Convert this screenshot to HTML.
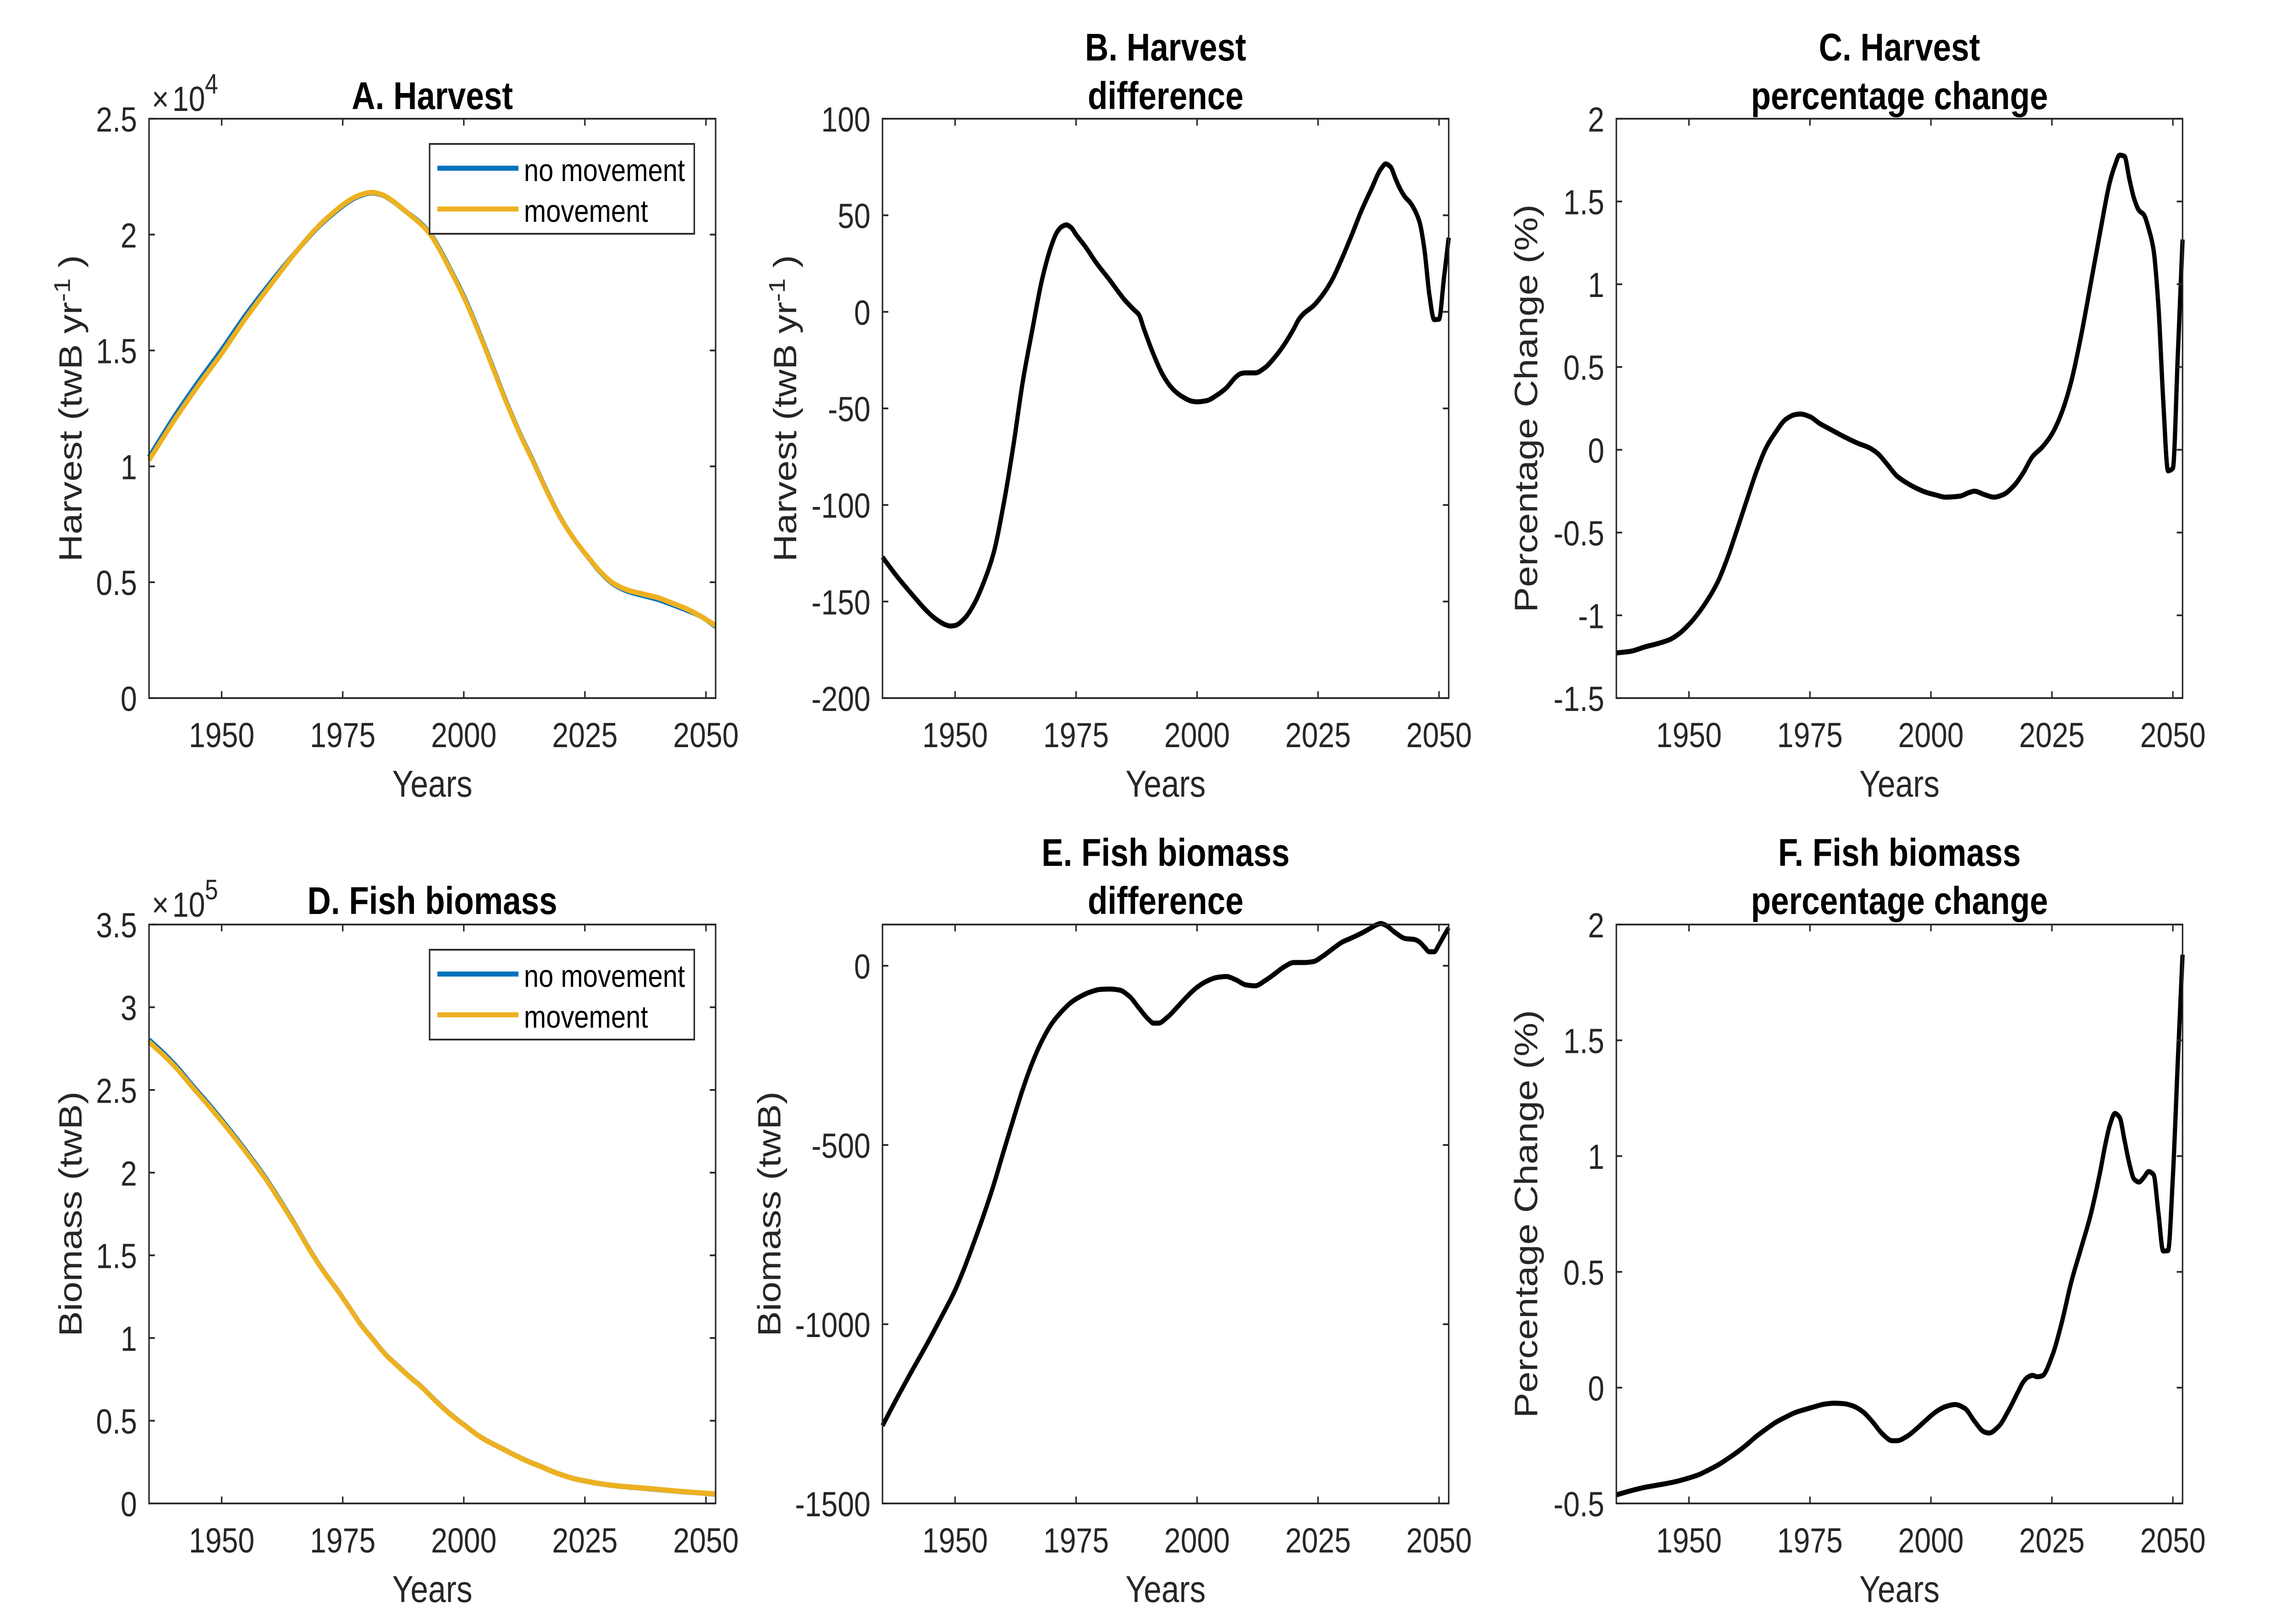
<!DOCTYPE html>
<html lang="en">
<head>
<meta charset="utf-8">
<title>Harvest and fish biomass: movement vs no movement</title>
<style>
html,body{margin:0;padding:0;background:#fff;width:100%;height:100%;overflow:hidden;}
svg{display:block;width:100vw;height:100vh;}
text{font-family:"Liberation Sans",Arial,sans-serif;white-space:pre;}
</style>
</head>
<body>
<svg id="figure" xmlns="http://www.w3.org/2000/svg" viewBox="0 0 5906 3543" preserveAspectRatio="none">
<rect x="0" y="0" width="5906" height="3543" fill="#ffffff"/>
</svg>
<script>
// ---------- Shared axis data ----------
const xTickValues = [1950, 1975, 2000, 2025, 2050];

// ---------- Panel A: harvest (x 10^4 twB/yr) ----------
const harvestYears = [1935,1940,1945,1950,1955,1960,1965,1970,1973,1976,1978,1981,1983,1985,1988,1991,1993,1995,1997,2000,2003,2006,2009,2012,2014,2017,2020,2023,2026,2028,2031,2034,2037,2040,2043,2046,2049,2052];
const harvestNoMovement = [1.039,1.207,1.360,1.503,1.654,1.790,1.917,2.034,2.090,2.139,2.163,2.180,2.172,2.149,2.100,2.051,2.006,1.939,1.859,1.735,1.587,1.428,1.268,1.123,1.037,0.901,0.777,0.680,0.599,0.548,0.491,0.460,0.443,0.4265,0.404,0.380,0.3525,0.309];
const harvestMovement = [1.026,1.192,1.344,1.487,1.640,1.780,1.916,2.037,2.094,2.143,2.166,2.182,2.173,2.150,2.100,2.048,2.003,1.935,1.855,1.730,1.583,1.424,1.265,1.120,1.034,0.899,0.776,0.680,0.600,0.550,0.494,0.465,0.449,0.434,0.410,0.385,0.352,0.313];
const harvestYTicks = [0,0.5,1,1.5,2,2.5];
const harvestYLabels = ['0','0.5','1','1.5','2','2.5'];

// ---------- Panel B: harvest difference ----------
const harvestDiffYears = [1935,1938,1941,1944,1946,1948,1949,1950,1952,1954,1956,1958,1960,1962,1964,1966,1968,1970,1971,1972,1973,1974,1975,1977,1979,1982,1985,1987,1988,1989,1991,1993,1995,1997,1999,2000,2002,2004,2006,2008,2009,2010,2012,2014,2016,2018,2020,2021,2022,2024,2026,2028,2030,2032,2034,2036,2038,2039,2040,2041,2042,2043,2044,2045,2046,2047,2048,2049,2050,2051,2052];
const harvestDiff = [-127,-137,-146,-154.5,-159,-162,-162.7,-162.4,-158.6,-151,-139.5,-124.5,-100,-70,-36,-8.7,17,35,41,44,45,43.6,40,33.5,26,16.3,6.3,1,-1.5,-8.7,-22,-33,-40,-44,-46.3,-46.6,-46,-43.3,-39.5,-33.8,-32,-31.6,-31.6,-29,-23.7,-17,-8.7,-4,-1,3,9,17,28,40,52.6,63.5,74,76.6,75,69,63.5,59.4,56.7,52.6,46.3,32,9,-4,-3.8,17,38.4];
const harvestDiffYTicks = [-200,-150,-100,-50,0,50,100];
const harvestDiffYLabels = ['-200','-150','-100','-50','0','50','100'];

// ---------- Panel C: harvest percentage change ----------
const harvestPctYears = [1935,1938,1941,1944,1946,1948,1950,1952,1954,1956,1958,1960,1962,1964,1966,1968,1970,1972,1973,1975,1977,1979,1982,1985,1987,1989,1991,1993,1995,1997,1999,2001,2003,2006,2008,2009,2011,2013,2015,2017,2019,2021,2023,2025,2027,2029,2031,2033,2035,2037,2038,2039,2040,2041,2042,2043,2044,2045,2046,2047,2048,2049,2050,2051,2052];
const harvestPct = [-1.227,-1.217,-1.19,-1.167,-1.147,-1.11,-1.055,-0.985,-0.9,-0.795,-0.65,-0.477,-0.30,-0.127,0.016,0.11,0.184,0.213,0.216,0.2,0.159,0.127,0.08,0.038,0.016,-0.022,-0.089,-0.159,-0.2,-0.232,-0.257,-0.273,-0.286,-0.28,-0.257,-0.25,-0.27,-0.286,-0.27,-0.222,-0.143,-0.041,0.016,0.095,0.222,0.413,0.683,1.0,1.32,1.62,1.716,1.78,1.773,1.637,1.516,1.446,1.42,1.335,1.208,0.874,0.30,-0.127,-0.111,0.556,1.27];
const harvestPctYTicks = [-1.5,-1,-0.5,0,0.5,1,1.5,2];
const harvestPctYLabels = ['-1.5','-1','-0.5','0','0.5','1','1.5','2'];

// ---------- Panel D: fish biomass (x 10^5 twB) ----------
const biomassYears = [1935,1938,1941,1944,1947,1950,1953,1956,1959,1962,1965,1968,1971,1974,1976,1979,1981,1984,1986,1989,1991,1994,1996,1998,2000,2003,2005,2008,2011,2014,2016,2018,2020,2023,2025,2028,2030,2034,2038,2042,2045,2048,2052];
const biomassNoMovement = [2.803,2.722,2.631,2.525,2.425,2.319,2.208,2.092,1.971,1.835,1.693,1.542,1.406,1.286,1.201,1.071,1.001,0.896,0.841,0.761,0.712,0.626,0.571,0.521,0.4765,0.4105,0.3753,0.3305,0.2855,0.2453,0.2222,0.197,0.175,0.148,0.136,0.12,0.1115,0.0995,0.09,0.0793,0.0713,0.0656,0.056];
const biomassMovement = [2.79,2.71,2.62,2.515,2.415,2.31,2.2,2.085,1.965,1.83,1.69,1.54,1.405,1.285,1.2,1.07,1.0,0.895,0.84,0.76,0.711,0.625,0.57,0.52,0.476,0.41,0.375,0.33,0.285,0.245,0.222,0.197,0.175,0.148,0.136,0.12,0.112,0.1,0.091,0.08,0.072,0.066,0.057];
const biomassYTicks = [0,0.5,1,1.5,2,2.5,3,3.5];
const biomassYLabels = ['0','0.5','1','1.5','2','2.5','3','3.5'];

// ---------- Panel E: fish biomass difference ----------
const biomassDiffYears = [1935,1938,1941,1944,1947,1950,1952,1954,1956,1958,1960,1962,1964,1966,1968,1970,1972,1974,1976,1978,1980,1982,1984,1986,1988,1990,1991,1992,1994,1996,1998,2000,2002,2004,2006,2008,2010,2012,2014,2016,2018,2020,2022,2024,2026,2028,2030,2032,2034,2036,2037,2038,2039,2041,2043,2045,2046,2047,2048,2049,2050,2051,2052];
const biomassDiff = [-1283,-1206,-1132,-1060,-984,-905,-840,-768,-692,-610,-519,-430,-344,-269,-208,-161,-128,-102,-85,-73,-66,-65,-68,-85,-118,-150,-160,-160,-142,-114,-85,-60,-43,-33,-30,-39,-53,-56,-42,-23,-3,9,9,11.5,27,47,66,78,91,106,113.6,118,113,92,76,73,66,52,39,39,59,83,106];
const biomassDiffYTicks = [-1500,-1000,-500,0];
const biomassDiffYLabels = ['-1500','-1000','-500','0'];

// ---------- Panel F: fish biomass percentage change ----------
const biomassPctYears = [1935,1938,1941,1944,1947,1950,1952,1954,1956,1958,1960,1962,1964,1966,1968,1970,1972,1974,1976,1978,1980,1982,1984,1986,1988,1990,1992,1993,1995,1997,1999,2001,2003,2005,2007,2009,2011,2012,2014,2016,2018,2019,2020,2021,2022,2023,2025,2027,2029,2031,2033,2035,2036,2037,2038,2039,2040,2041,2042,2043,2044,2045,2046,2047,2048,2049,2050,2051,2052];
const biomassPct = [-0.463,-0.445,-0.43,-0.419,-0.407,-0.39,-0.376,-0.356,-0.334,-0.307,-0.278,-0.245,-0.209,-0.178,-0.149,-0.127,-0.107,-0.094,-0.082,-0.071,-0.067,-0.069,-0.08,-0.105,-0.149,-0.2,-0.229,-0.229,-0.211,-0.178,-0.14,-0.105,-0.082,-0.073,-0.089,-0.145,-0.191,-0.196,-0.167,-0.1,-0.018,0.022,0.045,0.053,0.047,0.051,0.134,0.278,0.456,0.60,0.746,0.935,1.046,1.135,1.184,1.167,1.069,0.968,0.9,0.888,0.908,0.933,0.92,0.757,0.59,0.592,0.913,1.4,1.87];
const biomassPctYTicks = [-0.5,0,0.5,1,1.5,2];
const biomassPctYLabels = ['-0.5','0','0.5','1','1.5','2'];

// ---------- Drawing ----------
const SVG_NS = 'http://www.w3.org/2000/svg';
const svg = document.getElementById('figure');
const AXIS_COLOR = '#262626';
const BLUE = '#0072BD';
const ORANGE = '#EDB120';
const X_MIN = 1935, X_MAX = 2052;

function shape(parent, tag) {
  const el = document.createElementNS(SVG_NS, tag);
  parent.appendChild(el);
  return el;
}
function line(parent, x1, y1, x2, y2, color, width) {
  const el = shape(parent, 'line');
  el.setAttribute('x1', x1);
  el.setAttribute('y1', y1);
  el.setAttribute('x2', x2);
  el.setAttribute('y2', y2);
  el.setAttribute('stroke', color);
  el.setAttribute('stroke-width', width);
  return el;
}
function label(parent, x, y, str, size, anchor, color, weight) {
  const el = shape(parent, 'text');
  el.setAttribute('x', x);
  el.setAttribute('y', y);
  el.setAttribute('font-size', size);
  el.setAttribute('text-anchor', anchor);
  el.setAttribute('fill', color);
  if (weight) el.setAttribute('font-weight', weight);
  el.textContent = str;
  return el;
}
function makeXScale(box) {
  return function (v) { return box.left + (v - X_MIN) / (X_MAX - X_MIN) * (box.right - box.left); };
}
function makeYScale(box, yMin, yMax) {
  return function (v) { return box.bottom - (v - yMin) / (yMax - yMin) * (box.bottom - box.top); };
}
// Monotone cubic path through the data points: smooth, with no overshoot at the sharp turns.
function drawSeries(group, xs, ys, xScale, yScale, color, width) {
  const px = xs.map(function (x) { return xScale(x); });
  const py = ys.map(function (y) { return yScale(y); });
  const n = px.length;
  const h = [], s = [], m = [];
  for (let i = 0; i < n - 1; i++) {
    h.push(px[i + 1] - px[i]);
    s.push((py[i + 1] - py[i]) / h[i]);
  }
  m.push(s[0]);
  for (let i = 1; i < n - 1; i++) {
    if (s[i - 1] * s[i] <= 0) {
      m.push(0);
    } else {
      m.push(3 * (h[i - 1] + h[i]) / ((2 * h[i] + h[i - 1]) / s[i - 1] + (h[i] + 2 * h[i - 1]) / s[i]));
    }
  }
  m.push(s[n - 2]);
  let d = 'M' + px[0].toFixed(1) + ' ' + py[0].toFixed(1);
  for (let i = 0; i < n - 1; i++) {
    d += 'C' + (px[i] + h[i] / 3).toFixed(1) + ' ' + (py[i] + m[i] * h[i] / 3).toFixed(1) + ' ' +
         (px[i + 1] - h[i] / 3).toFixed(1) + ' ' + (py[i + 1] - m[i + 1] * h[i] / 3).toFixed(1) + ' ' +
         px[i + 1].toFixed(1) + ' ' + py[i + 1].toFixed(1);
  }
  const el = shape(group, 'path');
  el.setAttribute('d', d);
  el.setAttribute('fill', 'none');
  el.setAttribute('stroke', color);
  el.setAttribute('stroke-width', width);
  el.setAttribute('stroke-linejoin', 'round');
  return el;
}
function drawAxes(group, box, xScale, yScale, yTicks, yLabels, xLabelText) {
  const frame = shape(group, 'rect');
  
  
  frame.setAttribute('x', box.left);
  frame.setAttribute('y', box.top);
  frame.setAttribute('width', box.right - box.left);
  frame.setAttribute('height', box.bottom - box.top);
  frame.setAttribute('fill', 'none');
  frame.setAttribute('stroke', AXIS_COLOR);
  frame.setAttribute('stroke-width', 3.8);

  xTickValues.forEach(function (v) {
    const x = xScale(v);
    const tb = line(group, x, box.bottom, x, box.bottom - 15, AXIS_COLOR, 3.8);
    
    
    const tt = line(group, x, box.top, x, box.top + 15, AXIS_COLOR, 3.8);
    
    
    const tl = label(group, x, box.bottom + 107, String(v), 76, 'middle', AXIS_COLOR);
    
    
  });
  yTicks.forEach(function (v, i) {
    const y = yScale(v);
    const tl = line(group, box.left, y, box.left + 15, y, AXIS_COLOR, 3.8);
    
    
    const tr = line(group, box.right, y, box.right - 15, y, AXIS_COLOR, 3.8);
    
    
    const txt = label(group, box.left - 31, y + 28, yLabels[i], 76, 'end', AXIS_COLOR);
    
    
  });
  const xl = label(group, (box.left + box.right) / 2, box.bottom + 215, xLabelText, 82, 'middle', AXIS_COLOR);
  
  
}
function drawYTitle(group, box, baselineX, main, sup, tail) {
  const y = (box.top + box.bottom) / 2;
  const el = label(group, baselineX, y, main, 83, 'middle', AXIS_COLOR);
  
  
  el.setAttribute('transform', 'rotate(-90 ' + baselineX + ' ' + y + ')');
  if (sup) {
    const s = shape(el, 'tspan');
    s.setAttribute('dy', -30);
    s.setAttribute('font-size', 58);
    s.textContent = sup;
    const t = shape(el, 'tspan');
    t.setAttribute('dy', 30);
    t.textContent = tail;
  }
}
function drawTitle(group, box, lines, baselines) {
  lines.forEach(function (str, i) {
    const el = label(group, (box.left + box.right) / 2, baselines[i], str, 84, 'middle', '#000000', 'bold');
    
    
  });
}
function drawExponent(group, box, power) {
  const times = label(group, box.left + 7, box.top - 17, '\u00D7', 76, 'start', AXIS_COLOR);
  
  
  const ten = label(group, box.left + 60, box.top - 17, '10', 76, 'start', AXIS_COLOR);
  
  
  const pw = label(group, box.left + 144, box.top - 55, power, 61, 'start', AXIS_COLOR);
  
  
}
function drawLegend(group, box) {
  const g = shape(group, 'g');
  
  
  const top = box.top + 55;
  const frame = shape(g, 'rect');
  
  
  frame.setAttribute('x', box.left + 723);
  frame.setAttribute('y', top);
  frame.setAttribute('width', 682);
  frame.setAttribute('height', 196);
  frame.setAttribute('fill', '#ffffff');
  frame.setAttribute('stroke', AXIS_COLOR);
  frame.setAttribute('stroke-width', 3.8);

  const s1 = line(g, box.left + 743, top + 53, box.left + 952, top + 53, BLUE, 11);
  
  
  const t1 = label(g, box.left + 966, top + 81, 'no movement', 68.5, 'start', '#000000');
  
  
  const s2 = line(g, box.left + 743, top + 142, box.left + 952, top + 142, ORANGE, 11);
  
  
  const t2 = label(g, box.left + 966, top + 170, 'movement', 68.5, 'start', '#000000');
  
  
}

const COL = [{left:384,right:1844},{left:2274,right:3733},{left:4165,right:5624}];
const ROW = [{top:259,bottom:1523},{top:2017,bottom:3280}];
function boxAt(c, r) {
  return {left:COL[c].left, right:COL[c].right, top:ROW[r].top, bottom:ROW[r].bottom};
}

// Panel A
(function () {
  const box = boxAt(0, 0);
  const g = shape(svg, 'g');
  
  
  const xs = makeXScale(box), ys = makeYScale(box, 0, 2.5);
  const a = drawSeries(g, harvestYears, harvestNoMovement, xs, ys, BLUE, 11.5);
  
  
  const b = drawSeries(g, harvestYears, harvestMovement, xs, ys, ORANGE, 11.5);
  
  
  drawAxes(g, box, xs, ys, harvestYTicks, harvestYLabels, 'Years');
  drawYTitle(g, box, 210, 'Harvest (twB yr', '-1', ' )');
  drawTitle(g, box, ['A. Harvest'], [238]);
  drawExponent(g, box, '4');
  drawLegend(g, box);
})();

// Panel B
(function () {
  const box = boxAt(1, 0);
  const g = shape(svg, 'g');
  
  
  const xs = makeXScale(box), ys = makeYScale(box, -200, 100);
  const a = drawSeries(g, harvestDiffYears, harvestDiff, xs, ys, '#000000', 11);
  
  
  drawAxes(g, box, xs, ys, harvestDiffYTicks, harvestDiffYLabels, 'Years');
  drawYTitle(g, box, 2052, 'Harvest (twB yr', '-1', ' )');
  drawTitle(g, box, ['B. Harvest', 'difference'], [132, 238]);
})();

// Panel C
(function () {
  const box = boxAt(2, 0);
  const g = shape(svg, 'g');
  
  
  const xs = makeXScale(box), ys = makeYScale(box, -1.5, 2);
  const a = drawSeries(g, harvestPctYears, harvestPct, xs, ys, '#000000', 11);
  
  
  drawAxes(g, box, xs, ys, harvestPctYTicks, harvestPctYLabels, 'Years');
  drawYTitle(g, box, 3961, 'Percentage Change (%)');
  drawTitle(g, box, ['C. Harvest', 'percentage change'], [132, 238]);
})();

// Panel D
(function () {
  const box = boxAt(0, 1);
  const g = shape(svg, 'g');
  
  
  const xs = makeXScale(box), ys = makeYScale(box, 0, 3.5);
  const a = drawSeries(g, biomassYears, biomassNoMovement, xs, ys, BLUE, 11.5);
  
  
  const b = drawSeries(g, biomassYears, biomassMovement, xs, ys, ORANGE, 11.5);
  
  
  drawAxes(g, box, xs, ys, biomassYTicks, biomassYLabels, 'Years');
  drawYTitle(g, box, 210, 'Biomass (twB)');
  drawTitle(g, box, ['D. Fish biomass'], [1994]);
  drawExponent(g, box, '5');
  drawLegend(g, box);
})();

// Panel E
(function () {
  const box = boxAt(1, 1);
  const g = shape(svg, 'g');
  
  
  const xs = makeXScale(box), ys = makeYScale(box, -1500, 115);
  const a = drawSeries(g, biomassDiffYears, biomassDiff, xs, ys, '#000000', 11);
  
  
  drawAxes(g, box, xs, ys, biomassDiffYTicks, biomassDiffYLabels, 'Years');
  drawYTitle(g, box, 2011, 'Biomass (twB)');
  drawTitle(g, box, ['E. Fish biomass', 'difference'], [1889, 1994]);
})();

// Panel F
(function () {
  const box = boxAt(2, 1);
  const g = shape(svg, 'g');
  
  
  const xs = makeXScale(box), ys = makeYScale(box, -0.5, 2);
  const a = drawSeries(g, biomassPctYears, biomassPct, xs, ys, '#000000', 11);
  
  
  drawAxes(g, box, xs, ys, biomassPctYTicks, biomassPctYLabels, 'Years');
  drawYTitle(g, box, 3961, 'Percentage Change (%)');
  drawTitle(g, box, ['F. Fish biomass', 'percentage change'], [1889, 1994]);
})();
</script>
</body>
</html>
